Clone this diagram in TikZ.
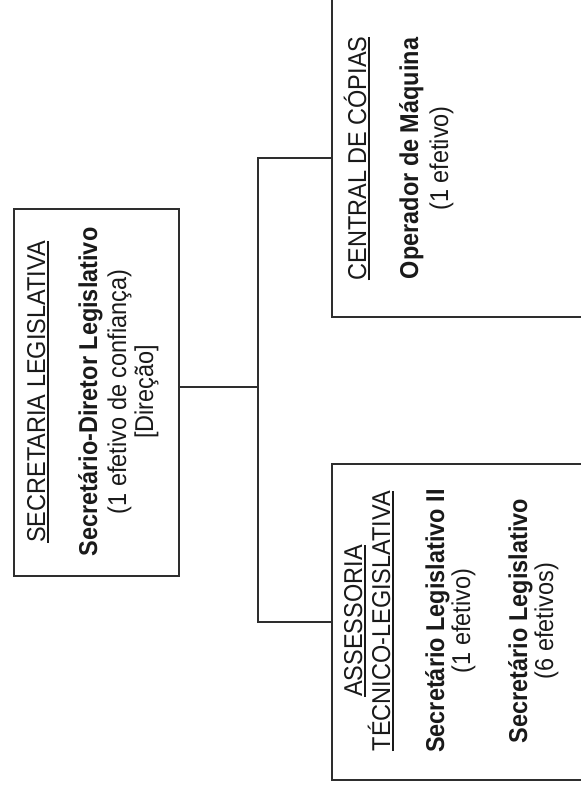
\documentclass[tikz,border=0pt]{standalone}
\usepackage{fontspec}
\setmainfont[FakeStretch=0.91]{Liberation Sans}
\definecolor{linegray}{HTML}{2E2E2E}
\definecolor{textgray}{HTML}{1A1A1A}
\newcommand\ulin[1]{\vtop{\hbox{#1}\kern2.2pt\hrule height 1.6pt}}
\begin{document}
\begin{tikzpicture}[x=1pt,y=-1pt,
  box/.style={draw=linegray, line width=1.8pt, inner sep=0pt, anchor=north west},
  conn/.style={draw=linegray, line width=1.8pt},
  txt/.style={rotate=90, anchor=base, inner sep=0pt, text=textgray,
    font=\fontsize{25.8}{30}\selectfont},
  btxt/.style={txt, font=\fontsize{25.8}{30}\selectfont\bfseries}]
\useasboundingbox[fill=white] (0,0) rectangle (581,790);
\clip (0,0) rectangle (581,790);
% boxes
\node[box, minimum width=165pt, minimum height=367pt] (lb) at (13,208) {};
\node[box, minimum width=269pt, minimum height=318pt] (ub) at (331,-2) {};
\node[box, minimum width=269pt, minimum height=316pt] (db) at (331,463) {};
% connectors
\coordinate (j) at (258,387);
\draw[conn] (lb.east |- j) -- (j);
\draw[conn] (ub.west) -- (ub.west -| j) -- (db.west -| j) -- (db.west);
% left box texts
\node[txt] (l1) at (45,392) {\ulin{SECRETARIA LEGISLATIVA}};
\node[btxt] (l2) at (97,392) {Secretário-Diretor Legislativo};
\node[txt] (l3) at (126,392) {(1 efetivo de confiança)};
\node[txt] (l4) at (153,392) {[Direção]};
% upper right box texts
\node[txt] (u1) at (366,158.5) {\ulin{CENTRAL DE CÓPIAS}};
\node[btxt] (u2) at (418,158.5) {Operador de Máquina};
\node[txt] (u3) at (448,158.5) {(1 efetivo)};
% lower right box texts
\node[txt] (d1) at (362,621) {\ulin{ASSESSORIA}};
\node[txt] (d2) at (390,621) {\ulin{TÉCNICO-LEGISLATIVA}};
\node[btxt] (d3) at (444,621) {Secretário Legislativo II};
\node[txt] (d4) at (470,621) {(1 efetivo)};
\node[btxt] (d5) at (527,621) {Secretário Legislativo};
\node[txt] (d6) at (553,621) {(6 efetivos)};
\end{tikzpicture}
\end{document}
